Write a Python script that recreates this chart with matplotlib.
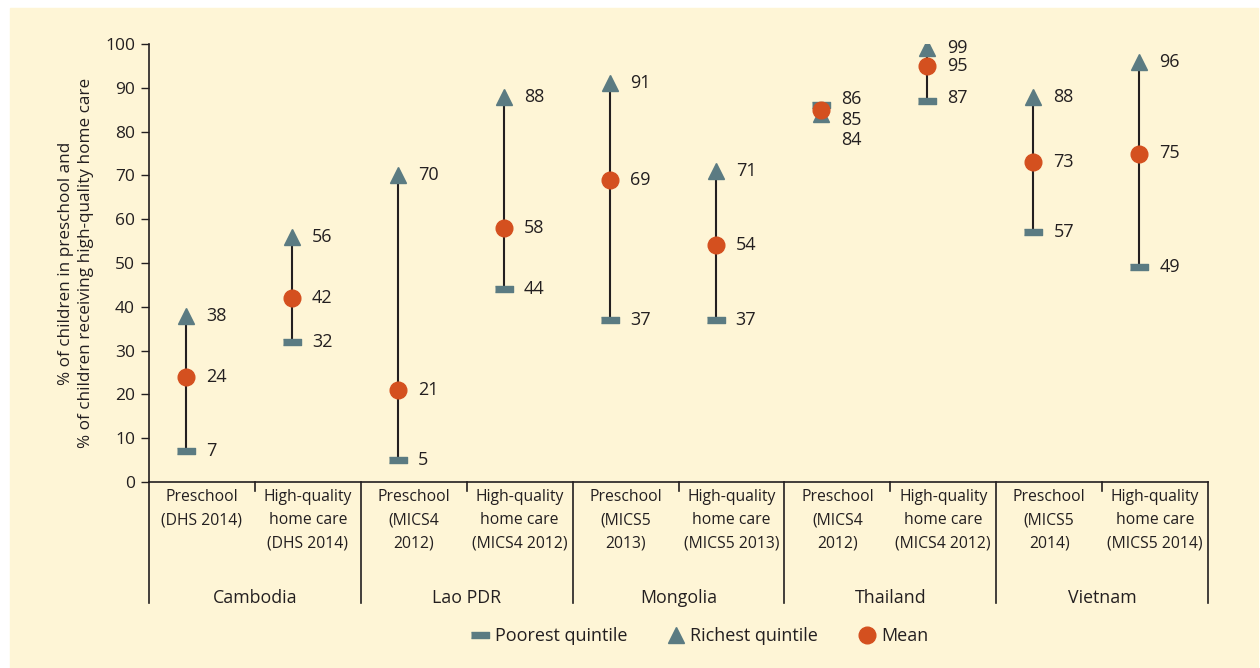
import matplotlib.pyplot as plt
import numpy as np

plt.rcParams['font.family'] = ['Open Sans', 'DejaVu Sans']

# Data
countries = ['Cambodia', 'Lao PDR', 'Mongolia', 'Thailand', 'Vietnam']
categories = ['Preschool\n(DHS 2014)', 'High-quality\nhome care\n(DHS 2014)',
              'Preschool\n(MICS4\n2012)', 'High-quality\nhome care\n(MICS4 2012)',
              'Preschool\n(MICS5\n2013)', 'High-quality\nhome care\n(MICS5 2013)',
              'Preschool\n(MICS4\n2012)', 'High-quality\nhome care\n(MICS4 2012)',
              'Preschool\n(MICS5\n2014)', 'High-quality\nhome care\n(MICS5 2014)']
poorest = [7, 32, 5, 44, 37, 37, 86, 87, 57, 49]
richest = [38, 56, 70, 88, 91, 71, 84, 99, 88, 96]
mean = [24, 42, 21, 58, 69, 54, 85, 95, 73, 75]

# label nudges (value units) where labels would overlap
nudge_poor = {6: 1.4, 7: 0.7}
nudge_rich = {6: -6.0}
nudge_mean = {6: -2.4}

bg = '#FEF5D6'
grey = '#5B7B82'
orange = '#D4501F'
ink = '#231F20'

fig = plt.figure(figsize=(12.6, 6.68), dpi=100, facecolor='white')
fig.patches.append(plt.Rectangle((10 / 1260, 0), 1248 / 1260, 660 / 668,
                                 transform=fig.transFigure, color=bg, zorder=-10))
ax = fig.add_axes([149 / 1260, 1 - 482 / 668, 1059 / 1260, 438 / 668])
ax.set_facecolor(bg)

x = np.arange(len(categories)) + 0.5 - 0.15
bar = [(-1, -0.4), (1, -0.4), (1, 0.4), (-1, 0.4)]

for i in range(len(categories)):
    ax.plot([x[i], x[i]], [poorest[i], richest[i]], color=ink, lw=1.5, zorder=2)
ax.plot(x, poorest, ls='none', marker=bar, ms=12.5, color=grey, zorder=3,
        label='Poorest quintile')
ax.plot(x, richest, ls='none', marker='^', ms=12, color=grey, zorder=4,
        label='Richest quintile')
ax.plot(x, mean, ls='none', marker='o', ms=12, color=orange, zorder=5,
        label='Mean')

for i in range(len(categories)):
    tx = x[i] + 0.19
    for vals, nd in ((poorest, nudge_poor), (richest, nudge_rich), (mean, nudge_mean)):
        ax.text(tx, vals[i] + nd.get(i, 0), str(vals[i]), ha='left', va='center',
                fontsize=13, color=ink)

ax.set_xlim(0, 10)
ax.set_ylim(0, 100)
ax.set_yticks(np.arange(0, 101, 10))
ax.tick_params(axis='y', length=6, width=1, color=ink, labelsize=12.5,
               labelcolor=ink, pad=4)
ax.set_xticks([])
for s in ['top', 'right']:
    ax.spines[s].set_visible(False)
for s in ['left', 'bottom']:
    ax.spines[s].set_color(ink)
    ax.spines[s].set_linewidth(1.2)

# category labels and separators
for i, lab in enumerate(categories):
    ax.text(i + 0.5, -0.016, lab, transform=ax.get_xaxis_transform(),
            ha='center', va='top', fontsize=11.3, color=ink, linespacing=1.6)
    if i % 2 == 1:
        ax.plot([i, i], [0, -0.02], transform=ax.get_xaxis_transform(),
                color=ink, lw=1.2, clip_on=False)
for g in range(len(countries) + 1):
    ax.plot([2 * g, 2 * g], [0, -0.276], transform=ax.get_xaxis_transform(),
            color=ink, lw=1.2, clip_on=False)
for g, c in enumerate(countries):
    ax.text(2 * g + 1, -0.265, c, transform=ax.get_xaxis_transform(),
            ha='center', va='center', fontsize=12.8, color=ink)

fig.text(76 / 1260, 1 - 263 / 668,
         '% of children in preschool and\n% of children receiving high-quality home care',
         rotation=90, ha='center', va='center', fontsize=12.3, color=ink,
         multialignment='center', linespacing=1.3)

fig.legend(loc='center', bbox_to_anchor=(700 / 1260, 1 - 636 / 668), ncol=3,
           frameon=False, fontsize=13, handletextpad=0.3, columnspacing=2.2,
           handlelength=1.0, labelcolor=ink)

fig.savefig('out.png', dpi=100, facecolor='white')
